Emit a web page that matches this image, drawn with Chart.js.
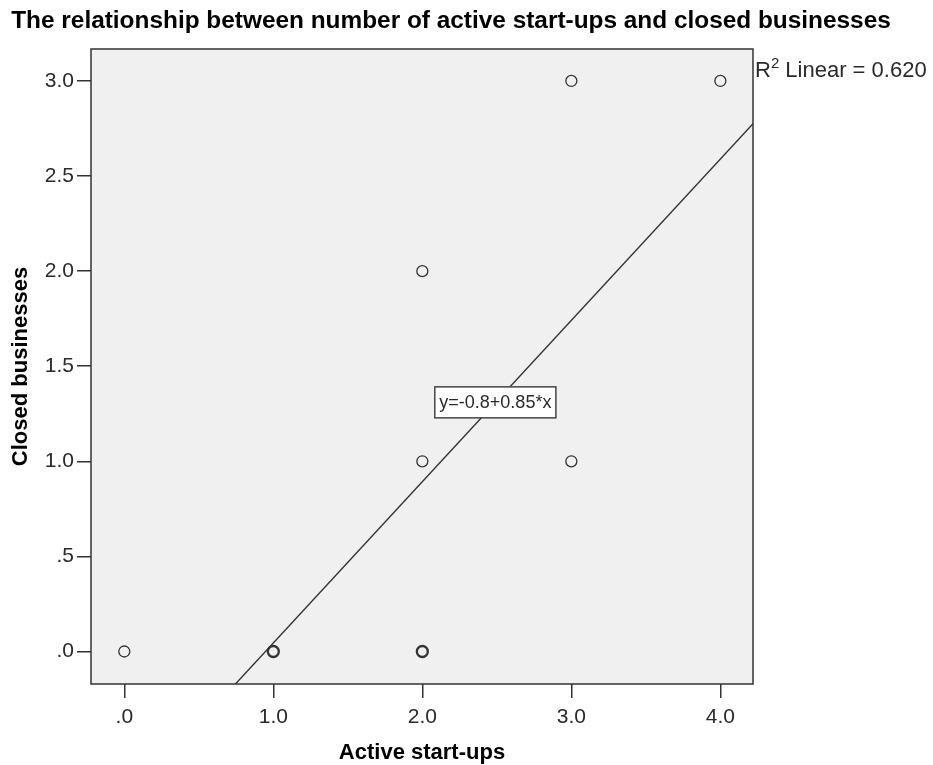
<!DOCTYPE html>
<html>
<head>
<meta charset="utf-8">
<script src="https://cdn.jsdelivr.net/npm/chart.js@4.4.1/dist/chart.umd.min.js"></script>
<style>
  html, body { margin: 0; padding: 0; background: #fff; }
</style>
</head>
<body>
<canvas id="scatterChart" width="933" height="765"></canvas>
<script>
// one entry per case (duplicates are overlapping cases)
const activeStartups   = [0, 1, 1, 1, 1, 1, 1, 2, 2, 2, 2, 2, 3, 3, 4];
const closedBusinesses = [0, 0, 0, 0, 0, 0, 0, 0, 0, 0, 1, 2, 1, 3, 3];

const xTicks = [0, 1, 2, 3, 4];
const xTickLabels = ['.0', '1.0', '2.0', '3.0', '4.0'];
const yTicks = [0, 0.5, 1, 1.5, 2, 2.5, 3];
const yTickLabels = ['.0', '.5', '1.0', '1.5', '2.0', '2.5', '3.0'];

const chartTitle = 'The relationship between number of active start-ups and closed businesses';
const xTitle = 'Active start-ups';
const yTitle = 'Closed businesses';

// axis ranges
const xMin = -0.2235, xMax = 4.219;
const yMin = -0.171, yMax = 3.168;

// where the fit equation label sits (data coords)
const eqLabelAt = [2.49, 1.31];

const FONT = '"Liberation Sans", Arial, Helvetica, sans-serif';
const INK = '#2a2a2a';

// least squares fit
var n = activeStartups.length;
var mx = 0, my = 0;
for (var i = 0; i < n; i++) { mx += activeStartups[i]; my += closedBusinesses[i]; }
mx /= n; my /= n;
var sxx = 0, sxy = 0, syy = 0;
for (var i = 0; i < n; i++) {
  var dx = activeStartups[i] - mx, dy = closedBusinesses[i] - my;
  sxx += dx * dx; sxy += dx * dy; syy += dy * dy;
}
const slope = sxy / sxx;
const intercept = my - slope * mx;
const r2 = (sxy * sxy) / (sxx * syy);

// scatter points, counting overlapping cases
var points = [];
var counts = {};
for (var i = 0; i < n; i++) {
  var key = activeStartups[i] + ',' + closedBusinesses[i];
  if (!counts[key]) {
    counts[key] = 0;
    points.push({ x: activeStartups[i], y: closedBusinesses[i], key: key });
  }
  counts[key]++;
}

const fitLine = [
  { x: xMin, y: intercept + slope * xMin },
  { x: xMax, y: intercept + slope * xMax }
];

const framePlugin = {
  id: 'frame',
  beforeDatasetsDraw(chart) {
    const a = chart.chartArea, ctx = chart.ctx;
    ctx.save();
    ctx.fillStyle = '#f0f0f0';
    ctx.fillRect(a.left, a.top, a.right - a.left, a.bottom - a.top);
    ctx.restore();
  },
  afterDraw(chart) {
    const a = chart.chartArea, ctx = chart.ctx;
    const xs = chart.scales.x, ys = chart.scales.y;
    ctx.save();
    // plot frame
    ctx.strokeStyle = '#333';
    ctx.lineWidth = 1.5;
    ctx.strokeRect(a.left, a.top, a.right - a.left, a.bottom - a.top);

    // chart title
    ctx.fillStyle = '#000';
    ctx.font = 'bold 24.4px ' + FONT;
    ctx.textAlign = 'center';
    ctx.textBaseline = 'middle';
    ctx.fillText(chartTitle, 451, 21);

    // R2 label
    ctx.fillStyle = INK;
    ctx.textAlign = 'left';
    ctx.textBaseline = 'alphabetic';
    ctx.font = '22px ' + FONT;
    var tx = a.right + 2, ty = 77;
    ctx.fillText('R', tx, ty);
    tx += ctx.measureText('R').width;
    ctx.font = '15px ' + FONT;
    ctx.fillText('2', tx, ty - 9);
    tx += ctx.measureText('2').width;
    ctx.font = '22px ' + FONT;
    ctx.fillText(' Linear = ' + r2.toFixed(3), tx, ty);

    // equation box
    var eq = 'y=' + intercept.toFixed(1) + '+' + slope.toFixed(2) + '*x';
    ctx.font = '18px ' + FONT;
    var w = ctx.measureText(eq).width + 9, h = 31;
    var cx = xs.getPixelForValue(eqLabelAt[0]), cy = ys.getPixelForValue(eqLabelAt[1]);
    ctx.fillStyle = '#fff';
    ctx.fillRect(cx - w / 2, cy - h / 2, w, h);
    ctx.strokeStyle = '#444';
    ctx.lineWidth = 1.5;
    ctx.strokeRect(cx - w / 2, cy - h / 2, w, h);
    ctx.fillStyle = INK;
    ctx.textAlign = 'center';
    ctx.textBaseline = 'middle';
    ctx.fillText(eq, cx, cy + 1);
    ctx.restore();
  }
};

Chart.defaults.font.family = FONT;
Chart.defaults.color = INK;

const ctx = document.getElementById('scatterChart').getContext('2d');
const myChart = new Chart(ctx, {
  type: 'scatter',
  data: {
    datasets: [{
      label: 'Cases',
      data: points,
      pointRadius: 5.5,
      pointHoverRadius: 5.5,
      pointBackgroundColor: 'rgba(0,0,0,0)',
      pointBorderColor: '#333',
      pointBorderWidth: function (c) {
        var p = c.raw;
        return p && counts[p.key] > 1 ? 2.3 : 1.3;
      },
      order: 1
    }, {
      type: 'line',
      label: 'Fit',
      data: fitLine,
      borderColor: '#333',
      borderWidth: 1.4,
      pointRadius: 0,
      fill: false,
      order: 2
    }]
  },
  options: {
    responsive: false,
    animation: false,
    layout: { padding: { left: 0, right: 180, top: 49, bottom: 0 } },
    plugins: {
      legend: { display: false },
      tooltip: { enabled: false },
      title: { display: false }
    },
    scales: {
      x: {
        type: 'linear',
        min: xMin,
        max: xMax,
        afterBuildTicks: function (s) { s.ticks = xTicks.map(function (v) { return { value: v }; }); },
        afterFit: function (s) { s.height = 81; },
        ticks: {
          font: { size: 21 },
          color: INK,
          padding: 7,
          callback: function (v) { return xTickLabels[xTicks.indexOf(v)]; }
        },
        grid: { drawOnChartArea: false, drawTicks: true, tickLength: 14, color: '#333', lineWidth: 1.5 },
        border: { display: false },
        title: { display: true, text: xTitle, color: '#000', font: { size: 22, weight: 'bold' }, padding: { top: 0, bottom: -1 } }
      },
      y: {
        type: 'linear',
        min: yMin,
        max: yMax,
        afterBuildTicks: function (s) { s.ticks = yTicks.map(function (v) { return { value: v }; }); },
        afterFit: function (s) { s.width = 91; },
        ticks: {
          font: { size: 21 },
          color: INK,
          padding: 3,
          callback: function (v) { return yTickLabels[yTicks.indexOf(v)]; }
        },
        grid: { drawOnChartArea: false, drawTicks: true, tickLength: 14, color: '#333', lineWidth: 1.5 },
        border: { display: false },
        title: { display: true, text: yTitle, color: '#000', font: { size: 22, weight: 'bold' }, padding: { top: 8, bottom: 0 } }
      }
    }
  },
  plugins: [framePlugin]
});
</script>
</body>
</html>
